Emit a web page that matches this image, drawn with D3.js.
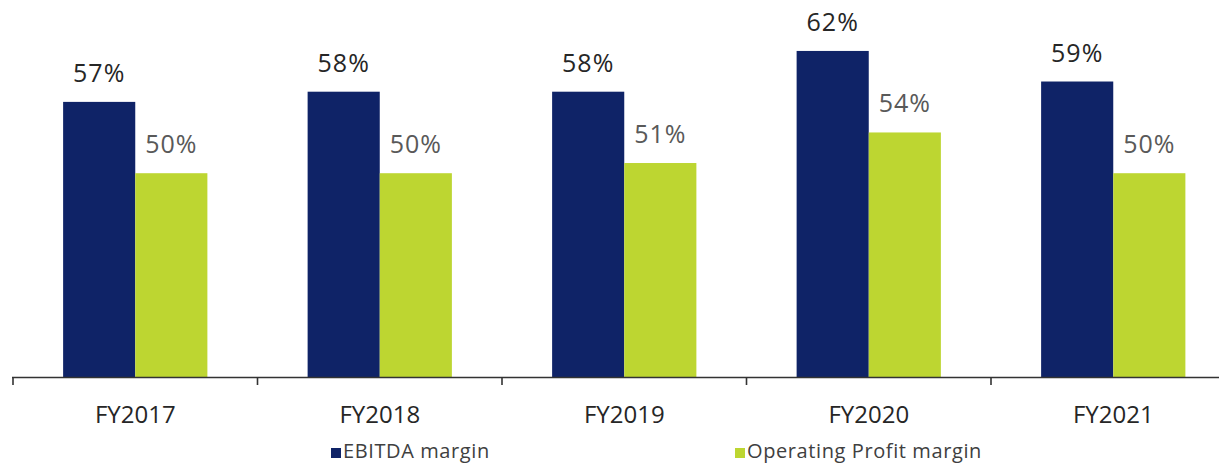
<!DOCTYPE html>
<html>
<head>
<meta charset="utf-8">
<script src="https://cdn.jsdelivr.net/npm/d3@7/dist/d3.min.js"></script>
<style>
  html, body { margin: 0; padding: 0; background: #ffffff; }
  svg { display: block; }
  text { font-family: "Open Sans", "Noto Sans", sans-serif; }
</style>
</head>
<body>
<div id="chart"></div>
<script>
// Margin data by fiscal year
const years = ["FY2017", "FY2018", "FY2019", "FY2020", "FY2021"];
const ebitdaMargin = [57, 58, 58, 62, 59];
const operatingMargin = [50, 50, 51, 54, 50];
const seriesNames = ["EBITDA margin", "Operating Profit margin"];
const seriesColors = ["#0f2367", "#bdd631"];
const labelColors = ["#262626", "#595959"];

const W = 1219, H = 464;
const svg = d3.select("#chart").append("svg")
  .attr("width", W).attr("height", H);

const baseY = 377;
const x = d3.scaleBand().domain(years).range([13, 1235.5]).paddingInner(0).paddingOuter(0);
const y = d3.scaleLinear().domain([30, 67]).range([baseY, 0]);

const groupPad = 0.205;
const x1 = d3.scaleBand().domain([0, 1])
  .range([x.bandwidth() * groupPad, x.bandwidth() * (1 - groupPad)]);

const rows = years.map((yr, i) => ({ yr, vals: [ebitdaMargin[i], operatingMargin[i]] }));

const groups = svg.append("g").selectAll("g").data(rows).join("g")
  .attr("transform", d => `translate(${x(d.yr)},0)`);

groups.selectAll("rect").data(d => d.vals.map((v, s) => ({ v, s }))).join("rect")
  .attr("x", d => x1(d.s))
  .attr("y", d => y(d.v))
  .attr("width", x1.bandwidth())
  .attr("height", d => baseY - y(d.v))
  .attr("fill", d => seriesColors[d.s]);

groups.selectAll("text.val").data(d => d.vals.map((v, s) => ({ v, s }))).join("text")
  .attr("class", "val")
  .attr("x", d => x1(d.s) + x1.bandwidth() / 2)
  .attr("y", d => y(d.v) - 20)
  .attr("text-anchor", "middle")
  .attr("font-size", 25)
  .attr("letter-spacing", 1)
  .attr("fill", d => labelColors[d.s])
  .text(d => d.v + "%");

// Category axis along the baseline
const axis = d3.axisBottom(x).tickSizeInner(0).tickSizeOuter(0).tickPadding(0);
const gAxis = svg.append("g").attr("transform", `translate(0,${baseY})`).call(axis);
gAxis.select(".domain").remove();
gAxis.selectAll(".tick line").remove();
gAxis.selectAll(".tick text")
  .attr("y", 46)
  .attr("dy", 0)
  .attr("font-size", 24)
  .attr("font-family", "\"Open Sans\", sans-serif")
  .attr("fill", "#262626");

svg.append("line")
  .attr("x1", 12).attr("x2", W)
  .attr("y1", baseY + 0.5).attr("y2", baseY + 0.5)
  .attr("stroke", "#333").attr("stroke-width", 1.6);

svg.append("g").selectAll("line").data(years).join("line")
  .attr("x1", d => x(d)).attr("x2", d => x(d))
  .attr("y1", baseY).attr("y2", baseY + 8)
  .attr("stroke", "#333").attr("stroke-width", 1.6);

// Legend
const legendX = [331, 735];
const legend = svg.append("g").selectAll("g").data(seriesNames).join("g")
  .attr("transform", (d, i) => `translate(${legendX[i]},448)`);
legend.append("rect").attr("width", 10).attr("height", 10)
  .attr("fill", (d, i) => seriesColors[i]);
legend.append("text")
  .attr("x", 12).attr("y", 10)
  .attr("font-size", 20)
  .attr("letter-spacing", 0.6)
  .attr("fill", "#404040")
  .text(d => d);
</script>
</body>
</html>
